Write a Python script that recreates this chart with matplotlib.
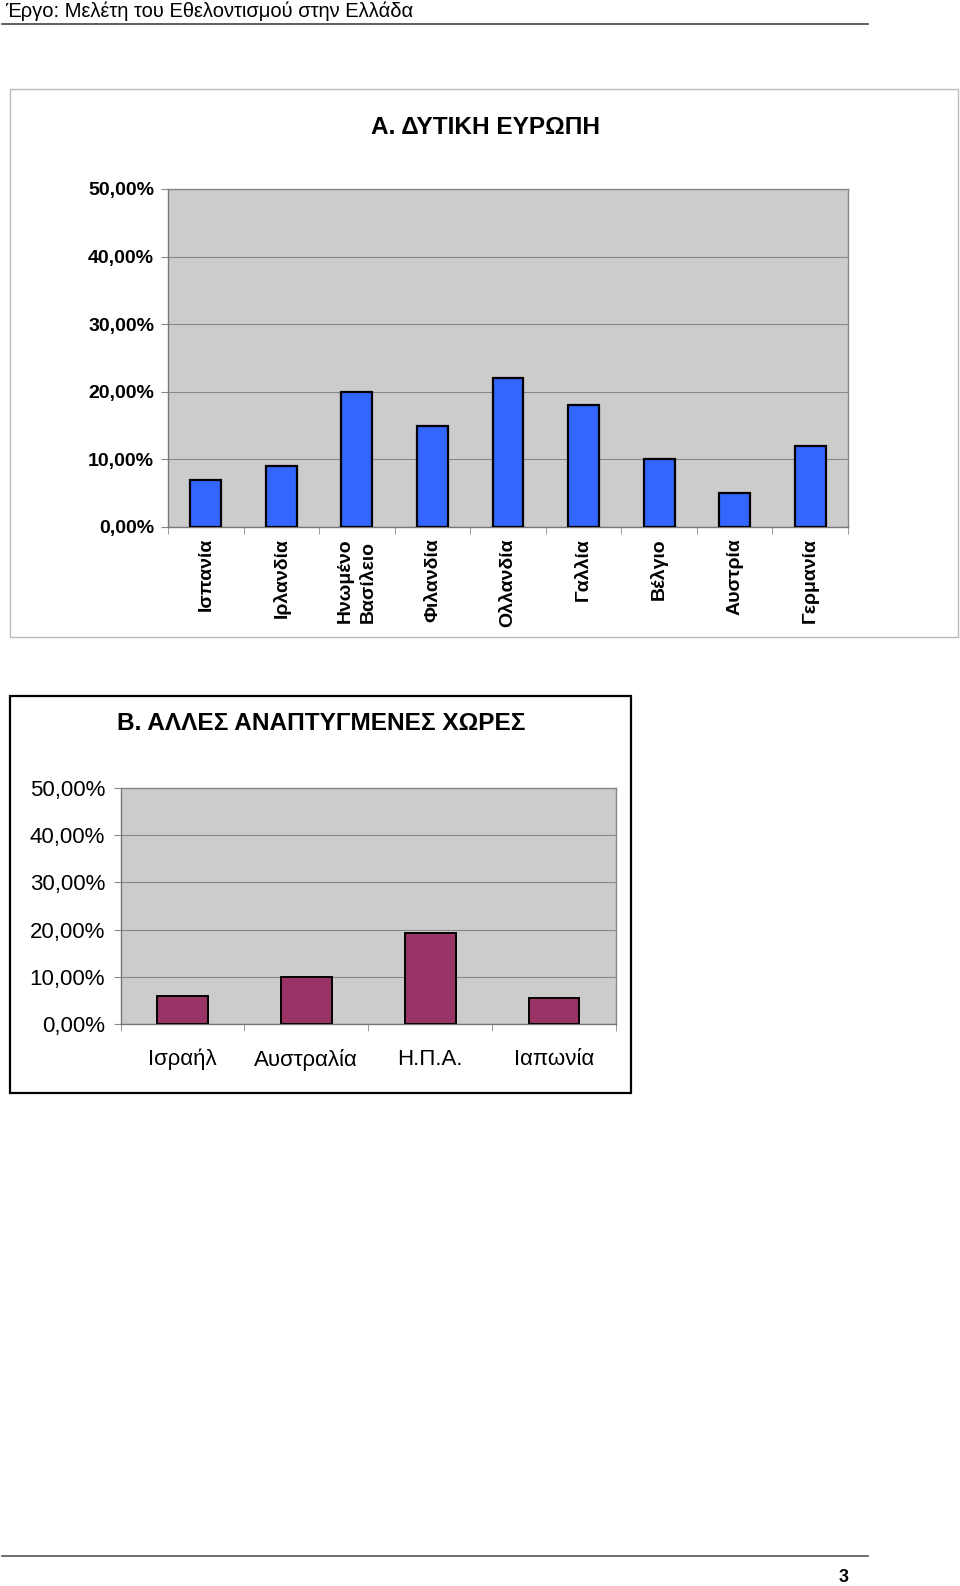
import matplotlib
matplotlib.use("Agg")
import matplotlib.pyplot as plt
from matplotlib.patches import Rectangle
from matplotlib.lines import Line2D
import numpy as np

plt.rcParams['font.family'] = ['Liberation Sans', 'DejaVu Sans']

header_text = "Έργο: Μελέτη του Εθελοντισμού στην Ελλάδα"
page_number = "3"

title_a = "Α. ΔΥΤΙΚΗ ΕΥΡΩΠΗ"
countries_a = ["Ισπανία", "Ιρλανδία", "Ηνωμένο\nΒασίλειο", "Φιλανδία", "Ολλανδία",
               "Γαλλία", "Βέλγιο", "Αυστρία", "Γερμανία"]
values_a = [7, 9, 20, 15, 22, 18, 10, 5, 12]

title_b = "Β. ΑΛΛΕΣ ΑΝΑΠΤΥΓΜΕΝΕΣ ΧΩΡΕΣ"
countries_b = ["Ισραήλ", "Αυστραλία", "Η.Π.Α.", "Ιαπωνία"]
values_b = [6.0, 9.9, 19.2, 5.6]

yticks = [0, 10, 20, 30, 40, 50]
ytick_labels = ["0,00%", "10,00%", "20,00%", "30,00%", "40,00%", "50,00%"]

W, H = 960, 1586
fig = plt.figure(figsize=(W / 100, H / 100), dpi=100)

def fx(px):
    return px / W

def fy(py):
    return 1 - py / H

# Header
fig.text(fx(5), fy(11), header_text, fontsize=14.5, ha='left', va='center', color='black')
fig.add_artist(Line2D([fx(2), fx(868)], [fy(23.5), fy(23.5)], color='#444444', lw=1.2))

# Footer
fig.add_artist(Line2D([fx(2), fx(868)], [fy(1556), fy(1556)], color='#555555', lw=1.2))
fig.text(fx(844), fy(1577), page_number, fontsize=13, fontweight='bold', ha='center', va='center')

# Boxes
fig.add_artist(Rectangle((fx(10), fy(637)), fx(958) - fx(10), fy(89) - fy(637),
                         transform=fig.transFigure, fill=False, edgecolor='#bbbbbb', lw=1.0))
fig.add_artist(Rectangle((fx(10), fy(1093)), fx(631) - fx(10), fy(696) - fy(1093),
                         transform=fig.transFigure, fill=False, edgecolor='black', lw=1.6))

def style_axes(ax, n):
    ax.set_facecolor('#cccccc')
    ax.set_ylim(0, 50)
    ax.set_xlim(-0.5, n - 0.5)
    ax.set_yticks(yticks)
    ax.grid(axis='y', color='#888888', lw=0.8)
    ax.set_axisbelow(True)
    for s in ax.spines.values():
        s.set_color('#888888')
        s.set_linewidth(1.0)
    ax.spines['left'].set_color('#777777')
    ax.spines['bottom'].set_color('#777777')
    ax.set_xticks(np.arange(-0.5, n, 1.0), minor=True)
    ax.tick_params(axis='x', which='major', length=0)
    ax.tick_params(axis='x', which='minor', length=5, color='#888888', direction='out')
    ax.tick_params(axis='y', length=5, color='#888888', direction='out')

# Chart A
axA = fig.add_axes([fx(168), fy(527), fx(848) - fx(168), fy(189) - fy(527)])
xa = np.arange(len(countries_a))
axA.bar(xa, values_a, width=0.41, color='#3366ff', edgecolor='black', lw=1.6, zorder=3)
style_axes(axA, len(countries_a))
axA.set_yticklabels(ytick_labels, fontsize=14, fontweight='bold')
axA.tick_params(axis='y', pad=5)
axA.set_xticks(xa)
axA.set_xticklabels(countries_a, rotation=90, fontsize=14, fontweight='bold',
                    va='top', ha='center', multialignment='left', linespacing=1.45)
axA.tick_params(axis='x', which='major', pad=8)
fig.text(fx(485), fy(127), title_a, fontsize=17.6, fontweight='bold', ha='center', va='center')

# Chart B
axB = fig.add_axes([fx(120.5), fy(1024), fx(616) - fx(120.5), fy(788) - fy(1024)])
xb = np.arange(len(countries_b))
axB.bar(xb, values_b, width=0.41, color='#993366', edgecolor='black', lw=1.4, zorder=3)
style_axes(axB, len(countries_b))
axB.set_yticklabels(ytick_labels, fontsize=16)
axB.tick_params(axis='y', pad=6)
axB.set_xticks(xb)
axB.set_xticklabels(countries_b, fontsize=16)
axB.tick_params(axis='x', which='major', pad=18)
fig.text(fx(321), fy(724), title_b, fontsize=17.6, fontweight='bold', ha='center', va='center')

fig.savefig("out.png", dpi=100)
